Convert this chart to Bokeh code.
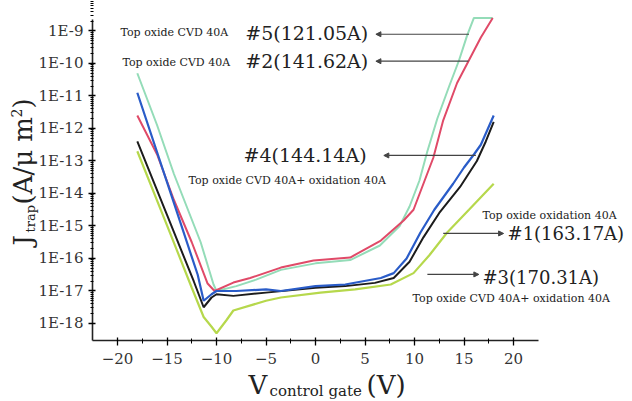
import math
from bokeh.plotting import figure
from bokeh.models import (Range1d, FixedTicker, CustomJSTickFormatter, Label,
                          Arrow, NormalHead)
from bokeh.embed import file_html
from bokeh.resources import INLINE

# ---------------- data (V in volts, log10 of J in A/um^2) ----------------
v5 = [-18, -16, -14.3, -12.5, -11.6, -10.8, -10.3, -10, -8, -6, -3.5, 0, 3.5, 6.5, 8.5, 9.5, 10.5, 11.3, 12.3, 13.5, 14.5, 15.3, 16, 17.9]
e5 = [-10.3, -11.9, -13.4, -14.8, -15.5, -16.3, -16.8, -17.0, -16.85, -16.65, -16.35, -16.15, -16.05, -15.6, -15.0, -14.4, -13.6, -12.7, -11.7, -10.7, -9.9, -9.15, -8.6, -8.6]

v2 = [-18, -16, -14.3, -12.5, -10.9, -10.2, -8.3, -6.6, -3.5, -0.2, 3.5, 6.6, 8.9, 9.9, 10.9, 11.9, 12.9, 14.3, 15.5, 16.7, 17.9]
e2 = [-11.6, -12.8, -14.2, -15.5, -16.77, -17.0, -16.74, -16.6, -16.28, -16.06, -15.97, -15.45, -14.83, -14.5, -13.7, -12.9, -11.75, -10.6, -9.9, -9.2, -8.6]

v4 = [-18, -15, -12.5, -11.9, -11.3, -10.5, -10, -8, -5, -3.5, 0, 3, 6.6, 7.9, 9.2, 10.6, 12, 13.9, 15, 16, 16.7, 18]
e4 = [-10.9, -13.65, -15.95, -16.5, -17.3, -17.1, -17.0, -17.0, -16.95, -17.0, -16.85, -16.8, -16.6, -16.45, -16.0, -15.2, -14.5, -13.7, -13.2, -12.8, -12.5, -11.6]

v1 = [-18, -15, -12.3, -11.3, -10.5, -10, -8.3, -5, 0, 3, 6, 7.9, 9.5, 10.9, 12.5, 14.6, 16.3, 17.2, 18]
e1 = [-12.4, -14.66, -16.7, -17.5, -17.2, -17.1, -17.15, -17.05, -16.9, -16.85, -16.75, -16.6, -16.1, -15.35, -14.6, -13.8, -13.0, -12.4, -11.8]

v3 = [-18, -15, -12.5, -11.3, -10.5, -10, -9, -8.3, -5, -3.5, 0.5, 4, 7.6, 9.9, 11.5, 13.3, 15.5, 18]
e3 = [-12.7, -14.98, -16.9, -17.8, -18.1, -18.3, -17.9, -17.6, -17.3, -17.2, -17.05, -16.95, -16.8, -16.45, -15.9, -15.2, -14.5, -13.7]

series = [
    ("#5", v5, e5, "#94dcb8", 2.0),
    ("#2", v2, e2, "#e04a68", 2.0),
    ("#3", v3, e3, "#b6d84c", 2.2),
    ("#1", v1, e1, "#1c1c1c", 2.0),
    ("#4", v4, e4, "#2a5cc8", 2.2),
]

x_ticks = [-20, -15, -10, -5, 0, 5, 10, 15, 20]
x_minor = [-17.5, -12.5, -7.5, -2.5, 2.5, 7.5, 12.5, 17.5]
y_exponents = [-18, -17, -16, -15, -14, -13, -12, -11, -10, -9]

FONT = "DejaVu Serif"
W, H = 632, 401

# axis extents (data units)
X_AX_MIN, X_AX_MAX = -22.53, 22.5
Y_AX_MIN, Y_AX_MAX = 10 ** -18.523, 10 ** -8.65

# ---------------- figure: frame covers the whole canvas, axes at fixed spots ----
p = figure(width=W, height=H, output_backend="svg", toolbar_location=None,
           y_axis_type="log",
           x_range=Range1d(-31.82, 32.02),
           y_range=Range1d(10 ** -20.40, 10 ** -8.062),
           min_border=0)
p.outline_line_color = None
p.grid.visible = False
p.background_fill_color = "white"
p.border_fill_color = "white"

for name, vx, ex, col, lw in series:
    p.line(vx, [10 ** e for e in ex], line_color=col, line_width=lw)

# x axis
xa = p.xaxis[0]
xa.fixed_location = Y_AX_MIN
xa.bounds = (X_AX_MIN, X_AX_MAX)
xa.ticker = FixedTicker(ticks=x_ticks, minor_ticks=x_minor)
xa.formatter = CustomJSTickFormatter(code="return tick < 0 ? '\u2212' + (-tick) : '' + tick;")
xa.major_label_text_font = FONT
xa.major_label_text_font_size = "15px"
xa.major_label_text_color = "#333333"
xa.axis_line_width = 1.6
xa.axis_line_color = "#222222"
xa.major_tick_in = 3
xa.major_tick_out = 5
xa.minor_tick_in = 2
xa.minor_tick_out = 3
xa.major_tick_line_width = 1.3
xa.major_label_standoff = 8

# y axis
ya = p.yaxis[0]
ya.fixed_location = X_AX_MIN
ya.bounds = (Y_AX_MIN, Y_AX_MAX)
ya.ticker = FixedTicker(ticks=[10 ** e for e in y_exponents],
                        minor_ticks=[k * 10 ** e for e in y_exponents for k in range(2, 10)])
ya.formatter = CustomJSTickFormatter(code="return '1E' + Math.round(Math.log10(tick));")
ya.major_label_text_font = FONT
ya.major_label_text_font_size = "15px"
ya.major_label_text_color = "#333333"
ya.axis_line_width = 1.6
ya.axis_line_color = "#222222"
ya.major_tick_in = 3
ya.major_tick_out = 4
ya.minor_tick_in = 1
ya.minor_tick_out = 2
ya.major_tick_line_width = 1.3
ya.major_label_standoff = 5


# ---------------- axis titles (screen px, measured from the canvas top-left) ----
def slabel(cx, cy, text, size, angle=0.0, color="#222222"):
    p.add_layout(Label(x=cx, y=H - cy, x_units="screen", y_units="screen",
                       text=text, text_font=FONT, text_font_size=size,
                       text_color=color, angle=angle, text_align="left",
                       text_baseline="middle"))


# x title: V_control gate (V)
slabel(248, 384, "V", "26px")
slabel(269, 390, "control gate", "15px")
slabel(366, 384, "(V)", "26px")

# y title: J_trap(A/um^2), rotated
R = math.pi / 2
slabel(22, 245, "J", "26px", R)
slabel(30, 232, "trap", "13px", R)
slabel(22, 204, "(A/\u03bc m", "26px", R)
slabel(16, 117, "2", "14px", R)
slabel(22, 108, ")", "26px", R)


# ---------------- in-plot annotations (data coordinates) ----------------
def dtext(vx, ey, text, size):
    p.add_layout(Label(x=vx, y=10 ** ey, text=text, text_font=FONT,
                       text_font_size=size, text_color="#222222",
                       text_align="left", text_baseline="middle"))


def darrow(v_from, v_to, ey):
    p.add_layout(Arrow(x_start=v_from, y_start=10 ** ey, x_end=v_to, y_end=10 ** ey,
                       line_color="#444444", line_width=1.2,
                       end=NormalHead(size=5, fill_color="#444444", line_color="#444444")))


dtext(-19.7, -9.05, "Top oxide CVD 40A", "11px")
dtext(-7.1, -9.05, "#5(121.05A)", "19px")
darrow(15.5, 6.1, -9.1)

dtext(-19.5, -9.97, "Top oxide CVD 40A", "11px")
dtext(-7.1, -9.91, "#2(141.62A)", "19px")
darrow(15.45, 6.1, -9.93)

dtext(-7.27, -12.83, "#4(144.14A)", "19px")
darrow(16.2, 6.9, -12.83)
dtext(-12.83, -13.6, "Top oxide CVD 40A+ oxidation 40A", "11px")

dtext(16.87, -14.68, "Top oxide oxidation 40A", "11px")
dtext(19.4, -15.23, "#1(163.17A)", "18px")
darrow(12.9, 19.0, -15.23)

dtext(16.87, -16.58, "#3(170.31A)", "18px")
darrow(11.3, 16.5, -16.49)
dtext(9.8, -17.23, "Top oxide CVD 40A+ oxidation 40A", "11px")

open("out.html", "w").write(file_html(p, INLINE))
